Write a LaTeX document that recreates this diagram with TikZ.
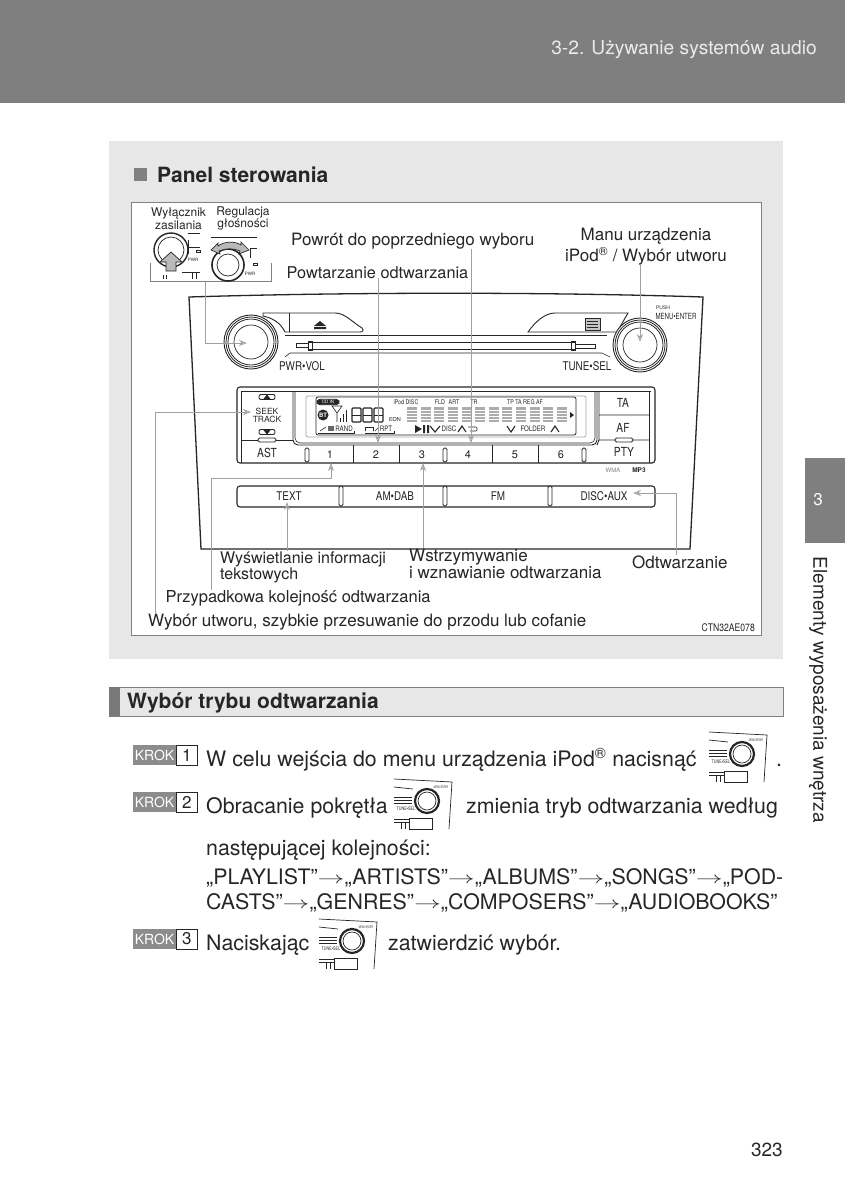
\documentclass[tikz,border=0pt]{standalone}
\usepackage{fontspec}
\setmainfont{TeX Gyre Heros}
\usetikzlibrary{positioning, arrows.meta}
\definecolor{ink}{HTML}{262626}
\definecolor{header}{HTML}{7F7F7F}
\definecolor{panelbg}{HTML}{E7E7E7}
\definecolor{callcol}{HTML}{A0A0A0}
\newcommand{\fs}[1]{\fontsize{#1}{#1}\selectfont}
\newcommand{\ar}{\raisebox{0.5pt}{\fs{21}\scalebox{1.3}[0.8]{$\rightarrow$}}}
\newcommand{\nar}[1]{\scalebox{0.82}[1]{#1}}
\begin{document}
\begin{tikzpicture}[
    x=1pt, y=-1pt,
    >=stealth,
    txt/.style={inner sep=0pt, text=ink, align=left},
    body/.style={txt, anchor=base west, font=\fs{21.35}},
    lbl/.style={txt, anchor=base west, font=\fs{17}},
    small/.style={txt, font=\fs{10}},
    tiny/.style={txt, font=\fs{6.5}},
    face/.style={draw=ink, line width=0.9pt},
    thin/.style={draw=ink, line width=0.6pt},
    pill/.style={draw=ink, line width=0.8pt, fill=white, rounded corners=1.5pt},
    callout/.style={draw=callcol, line width=0.9pt, -{Stealth[open, length=8pt, width=6pt]}, rounded corners=0pt},
    krokbox/.style={fill=gray!90, text=white, font=\fs{14}, inner sep=0pt, minimum width=43pt, minimum height=20pt},
    krokno/.style={draw=ink, line width=0.5pt, fill=white, text=ink, font=\fs{17}, inner sep=0pt, minimum width=21pt, minimum height=20pt}
  ]
    \useasboundingbox (0,0) rectangle (845,1200);

    % ==========================================
    \fill[header] (0,0) rectangle (845,103);
    \node[txt, anchor=base east, font=\fs{19.2}, text=white!92!black] (chapter) at (817,54) {3-2. Używanie systemów audio};
    \fill[header] (805,458) rectangle (845,543);
    \node[txt, font=\fs{17}, text=white] (tabno) at (818,500) {3};
    \node[txt, font=\fs{19}, rotate=-90] (tabtxt) at (818,690) {Elementy wyposażenia wnętrza};
    \node[txt, anchor=base east, font=\fs{19}] (pageno) at (783,1156) {323};

    % ==========================================
    \fill[panelbg] (109,141) rectangle (783,659);
    \fill[gray] (134,168) rectangle (147,181);
    \node[txt, anchor=base west, font=\fs{21}\bfseries] (paneltitle) at (157,182) {Panel sterowania};
    \draw[draw=gray, line width=1pt, fill=white] (131,202) rectangle (761,635);

    % ==========================================
    % radio body
    \draw[face, line width=1.3pt] (201,549) -- (189,297) .. controls (350,292) and (550,292) .. (703,297) -- (690,549) -- cycle;
    \draw[face, fill=white] (263,313) -- (335,313) .. controls (345,313) and (352,322) .. (362,328) .. controls (364,330) and (363,332) .. (360,332) -- (285,332) .. controls (280,322) and (272,318) .. (263,316) -- cycle;
    \draw[thin] (289,313) -- (289,332);
    \fill[ink] (320,321) -- (326,326) -- (314,326) -- cycle (314,327) rectangle (326,329);
    \draw[face, fill=white] (528,332) .. controls (535,322) and (545,313) .. (555,313) -- (628,313) -- (617,332) -- cycle;
    \draw[thin, fill=gray!45] (585,318) rectangle (600,330);
    \draw[thin] (587,321) -- (598,321) (587,324) -- (598,324) (587,327) -- (598,327);

    % slot
    \draw[thin] (285,335) -- (607,335);
    \draw[thin] (285,357) -- (290,353) -- (602,353) -- (610,357);
    \draw[thin] (296,343) -- (308,343) -- (308,347) -- (296,347) -- cycle;
    \draw[thin] (308,342) -- (575,342) -- (575,349) -- (308,349);
    \draw[thin] (308,341) rectangle (312,350) (571,341) rectangle (575,350);
    \draw[thin] (575,344) -- (595,344) -- (595,348) -- (575,348);

    % knobs
    \foreach \kx/\ky in {251/342, 640/345} {
      \draw[line width=0.9pt, draw=ink, fill=white] (\kx,\ky) circle (27);
      \draw[line width=0.8pt, draw=ink] (\kx,\ky) circle (25);
      \draw[line width=0.8pt, draw=ink] (\kx,\ky) circle (23);
      \draw[line width=0.7pt, draw=ink] (\kx,\ky) circle (17);
    }
    \node[small] (pwrvol) at (302,366) {\nar{\fs{12}PWR•VOL}};
    \node[small] (tunesel) at (587,366) {\nar{\fs{12}TUNE•SEL}};
    \node[tiny, font=\fs{5}] (push) at (663,308) {PUSH};
    \node[small] (menuenter) at (676,316) {\scalebox{0.72}[1]{\fs{8.5}MENU•ENTER}};

    % ==========================================
    % front panel
    \draw[face, line width=1.1pt, fill=white, rounded corners=3pt] (237,387) rectangle (655,463);
    \draw[thin] (241,391) -- (651,391) (241,391) -- (241,463) (649,391) -- (649,463);
    \draw[face, rounded corners=5pt] (293,391) -- (293,445) -- (597,445) -- (597,391);
    \draw[thin, rounded corners=5pt] (295,391) -- (295,443) -- (595,443) -- (595,391);
    \draw[face] (241,440) -- (293,440);
    \draw[face] (599,391) -- (599,440) (599,415) -- (649,415) (599,440) -- (649,440) (599,440) -- (597,445);
    \foreach \sx in {353,399,492,538} \draw[face] (\sx,445) -- (\sx,463);
    \foreach \sx in {307,445,584} \draw[pill] (\sx-2,448) rectangle (\sx+2,462);
    \foreach \nm/\sx in {1/330,2/376,3/422,4/468,5/515,6/561}
      \node[small, font=\fs{11}] (digit\nm) at (\sx,454.5) {\nm};
    \node[small] (ast) at (267,453) {\nar{\fs{12.5}AST}};
    \node[small] (ta) at (623,403) {\nar{\fs{12.5}TA}};
    \node[small] (af) at (623,428) {\nar{\fs{12.5}AF}};
    \node[small] (pty) at (624,452) {\nar{\fs{12.5}PTY}};
    \draw[pill] (258,438) rectangle (276,442);
    \draw[pill] (615,438) rectangle (633,442);

    % seek
    \node[small, font=\fs{8.5}, align=center] (seek) at (267,415) {SEEK\\[-0.5pt]TRACK};
    \foreach \sy in {397,432} {
      \draw[thin, rounded corners=2pt, line width=0.9pt] (259,\sy-2.5) rectangle (275,\sy+2.5);
    }
    \fill[ink] (267,394.5) -- (271,399.5) -- (263,399.5) -- cycle;
    \fill[ink] (267,434.5) -- (271,429.5) -- (263,429.5) -- cycle;

    % lcd
    \draw[draw=gray!70, line width=0.7pt, rounded corners=2pt] (306,396) rectangle (586,437);
    \draw[thin, rounded corners=2pt, line width=0.8pt] (316,397) rectangle (576,435);
    \node[pill, fill=ink, text=white, font=\fs{4.5}, inner sep=1pt, minimum width=22pt, rounded corners=3pt] (cdin) at (328,402) {CD IN};
    \fill[ink] (323,415) circle (5.5);
    \node[txt, font=\fs{6}\bfseries, text=white] (bt) at (323,415) {BT};
    \draw[thin] (332,406) -- (342,406) -- (337,413) -- cycle (337,413) -- (337,422);
    \foreach \bx/\by in {340/418, 343/414, 346/410} \draw[line width=0.9pt, ink] (\bx,\by) -- (\bx,422);
    \foreach \dx in {352,363,374} {
      \draw[line width=1.2pt, draw=ink, rounded corners=1pt] (\dx,408) rectangle (\dx+9,422);
      \draw[line width=0.8pt, draw=ink] (\dx,415) -- (\dx+9,415);
    }
    \node[tiny, font=\fs{5.5}] (eon) at (395,419) {EON};
    \node[tiny] (ipod) at (406,402) {\nar{iPod DISC}};
    \node[tiny] (fld) at (440,402) {\nar{FLD}};
    \node[tiny] (art) at (454,402) {\nar{ART}};
    \node[tiny] (tr) at (474,402) {\nar{TR}};
    \node[tiny] (flags) at (525,402) {\nar{TP TA REG AF}};
    \foreach \i in {0,...,11} {
      \fill[gray!65] (407+13.64*\i,407) rectangle (417+13.64*\i,422);
      \foreach \j in {0,1,2,3} \draw[white, line width=0.4pt] (407+13.64*\i,410+3*\j) -- (417+13.64*\i,410+3*\j);
    }
    \fill[ink] (570,412) -- (574,415) -- (570,418) -- cycle;
    \node[tiny, font=\fs{7.5}] (rand) at (344,428.5) {\nar{RAND}};
    \node[tiny, font=\fs{7.5}] (rpt) at (386,428.5) {\nar{RPT}};
    \draw[thin] (318,433) -- (354,433) -- (354,431) (365,433) -- (394,433) -- (394,431);
    \draw[thin] (320,431) -- (326,427);
    \fill[ink!70] (328,426) rectangle (334,431);
    \draw[thin] (365,431) -- (365,427) -- (373,427) -- (373,431);
    \draw[thin] (375,431) -- (379,427);
    \fill[ink] (415,425) -- (422,429) -- (415,433) -- cycle (423,425) rectangle (425,433) (427,425) rectangle (429,433);
    \draw[line width=1.1pt, draw=ink] (430,426) -- (435,432) -- (440,426);
    \node[tiny, font=\fs{7.5}] (discs) at (449,428.5) {\nar{DISC}};
    \draw[line width=1.1pt, draw=ink] (458,432) -- (462,426) -- (466,432);
    \draw[thin, rounded corners=1pt] (468,427) -- (477,427) -- (477,431) -- (470,431);
    \draw[line width=1.1pt, draw=ink] (507,426) -- (511,432) -- (515,426);
    \node[tiny, font=\fs{7.5}] (folder) at (533,428.5) {\nar{FOLDER}};
    \draw[line width=1.1pt, draw=ink] (551,432) -- (555,426) -- (559,432);

    % lower bar
    \node[txt, font=\fs{6}, text=gray] (wma) at (613,470) {WMA};
    \node[txt, font=\fs{6.5}\bfseries] (mp3) at (639,470) {MP3};
    \draw[face, line width=1.1pt, fill=white, rounded corners=3pt] (237,486) rectangle (655,507);
    \foreach \sx in {341,445,550} \draw[pill] (\sx-2,486) rectangle (\sx+2,506);
    \node[small] (text) at (289,496) {\nar{\fs{12}TEXT}};
    \node[small] (amdab) at (395,496) {\nar{\fs{12}AM•DAB}};
    \node[small] (fm) at (498,496) {\nar{\fs{12}FM}};
    \node[small] (discaux) at (604,496) {\nar{\fs{12}DISC•AUX}};

    % ==========================================
    % inset with the power and volume knobs
    \node[txt, font=\fs{12}, align=center] (power) at (178.5,218.5) {Wyłącznik\\[0.5pt]zasilania};
    \node[txt, font=\fs{12}, align=center] (volume) at (243,218.5) {Regulacja\\[0.5pt]głośności};
    \draw[draw=gray, line width=0.7pt] (150,263) -- (150,281) -- (271,281) -- (271,263);
    \coordinate (insetfoot) at (205,281);
    \draw[line width=1.4pt, draw=ink] (171,250) circle (17);
    \draw[line width=0.7pt, draw=ink] (171,250) circle (13);
    \draw[draw=ink, line width=0.7pt, fill=gray!55] (171,252) -- (182,262) -- (176,262) -- (176,271) -- (166,271) -- (166,262) -- (160,262) -- cycle;
    \draw[thin] (188,233) -- (200,233) (188,240) -- (188,254) (188,247) -- (200,247) (196,250) rectangle (200,252) (182,272) -- (200,272) (192,272) -- (192,279) (196,272) -- (196,279) (163,275) -- (163,279) (166,275) -- (166,279);
    \node[tiny, font=\fs{4.5}] (pwr1) at (193,260) {PWR};
    \draw[line width=1pt, draw=ink] (211,237) -- (257,237);
    \draw[line width=1.6pt, draw=ink] (228,265) circle (16);
    \draw[line width=0.7pt, draw=ink] (228,265) circle (11);
    \draw[draw=ink, line width=0.7pt, fill=gray!55] (211,250) -- (218,243) -- (218,246) .. controls (225,241) and (235,241) .. (241,245) -- (241,242) -- (249,250) -- (239,254) -- (240,251) .. controls (233,248) and (226,248) .. (219,251) -- (220,254) -- cycle;
    \draw[thin] (250,258) -- (250,248) -- (257,248) (253,263) rectangle (257,265);
    \node[tiny, font=\fs{4.5}] (pwr2) at (250,274) {PWR};

    % ==========================================
    % labels
    \node[lbl] (lblBack) at (291,245) {Powrót do poprzedniego wyboru};
    \node[lbl, font=\fs{16.3}] (lblRepeat) at (286.5,278) {Powtarzanie odtwarzania};
    \node[txt, font=\fs{17}, align=center, anchor=north] (lblMenu) at (646,228) {Manu urządzenia\\[1.5pt]iPod\textsuperscript{®} / Wybór utworu};
    \node[lbl, font=\fs{16}] (lblText) at (220,563) {Wyświetlanie informacji};
    \node[lbl, font=\fs{16}] (lblText2) at (220,579) {tekstowych};
    \node[lbl] (lblPause) at (409,561) {Wstrzymywanie};
    \node[lbl] (lblPause2) at (409,578) {i wznawianie odtwarzania};
    \node[lbl] (lblPlay) at (632,568) {Odtwarzanie};
    \node[lbl, font=\fs{16.5}] (lblRand) at (165.5,602) {Przypadkowa kolejność odtwarzania};
    \node[lbl] (lblSeek) at (148,626) {Wybór utworu, szybkie przesuwanie do przodu lub cofanie};
    \node[small, anchor=east] (figcode) at (755,628) {\nar{\fs{10.5}CTN32AE078}};

    % ==========================================
    % callouts
    \coordinate (tipVol) at (247,343);
    \coordinate (tipRepeat) at (378,443);
    \coordinate (tipBack) at (471,443);
    \coordinate (tipMenu) at (640,342);
    \coordinate (tipSeek) at (251,412);
    \coordinate (tipRand) at (331,463);
    \coordinate (tipText) at (287,502);
    \coordinate (tipPause) at (423,463);
    \coordinate (tipPlay) at (633,493);
    \draw[callout] (insetfoot) |- (tipVol);
    \draw[callout] (lblRepeat.south -| tipRepeat) -- (tipRepeat);
    \draw[callout] (lblBack.south -| tipBack) -- (tipBack);
    \draw[callout] (lblMenu.south -| tipMenu) -- (tipMenu);
    \draw[callout] (lblSeek.north -| 155,0) |- (tipSeek);
    \draw[callout] (lblRand.north -| 211,0) -- (211,478) -| (tipRand);
    \draw[callout] (lblText.north -| tipText) -- (tipText);
    \draw[callout] (lblPause.north -| tipPause) -- (tipPause);
    \draw[callout] (lblPlay.north -| 676,0) |- (tipPlay);

    % ==========================================
    \fill[panelbg] (109,687) rectangle (783,716);
    \draw[draw=gray, line width=0.6pt] (109,687) rectangle (783,716);
    \fill[gray!95!black] (109,687) rectangle (120,716);
    \node[txt, anchor=base west, font=\fs{21}\bfseries] (steptitle) at (127,708) {Wybór trybu odtwarzania};

    % ==========================================
    \foreach \nm/\sy in {1/755, 2/802, 3/939} {
      \node[krokbox] (krok\nm) at (154.5,\sy) {KROK};
      \node[krokno, right=0pt of krok\nm] (krokno\nm) {\nm};
    }
    \node[body] (s1) at (206,766) {W celu wejścia do menu urządzenia iPod\textsuperscript{®} nacisnąć};
    \node[body] (s1b) at (776,766) {.};
    \node[body] (s2) at (206,813) {Obracanie pokrętła};
    \node[body] (s2b) at (466,813) {zmienia tryb odtwarzania według};
    \node[body] (s2c) at (206,855) {następującej kolejności:};
    \node[body] (s2d) at (206,884) {„PLAYLIST”\ar„ARTISTS”\ar„ALBUMS”\ar„SONGS”\ar„POD-};
    \node[body] (s2e) at (206,909) {CASTS”\ar„GENRES”\ar„COMPOSERS”\ar„AUDIOBOOKS”};
    \node[body] (s3) at (206,950) {Naciskając};
    \node[body] (s3b) at (388,950) {zatwierdzić wybór.};

    % small knob pictures in the running text
    \foreach \kx/\ky in {742/754, 427/801, 352/941} {
      \begin{scope}[shift={(\kx,\ky)}]
        \draw[line width=0.7pt, draw=ink] (-33,-22) -- (25,-19) -- (22,28);
        \draw[line width=0.7pt, draw=ink] (-33,-14) -- (-14,-12);
        \draw[line width=0.8pt, draw=ink] (-33,-4) -- (-15,-4) (-33,-1) -- (-15,-1) (-33,2) -- (-15,2);
        \draw[line width=2.2pt, draw=ink] (0,0) circle (12);
        \draw[line width=0.7pt, draw=ink] (0,0) circle (9);
        \node[txt] at (14,-14) {\scalebox{0.6}[1]{\fs{3.5}MENU•ENTER}};
        \node[txt] at (-21,8) {\scalebox{0.75}[1]{\fs{5}TUNE•SEL}};
        \draw[line width=0.8pt, draw=ink] (-33,18) -- (-18,18) (-33,21) -- (-18,21) (-26,21) -- (-26,28) (-22,21) -- (-22,28);
        \draw[line width=0.7pt, draw=ink] (-18,17) rectangle (5,28);
      \end{scope}
    }
  \end{tikzpicture}
\end{document}
